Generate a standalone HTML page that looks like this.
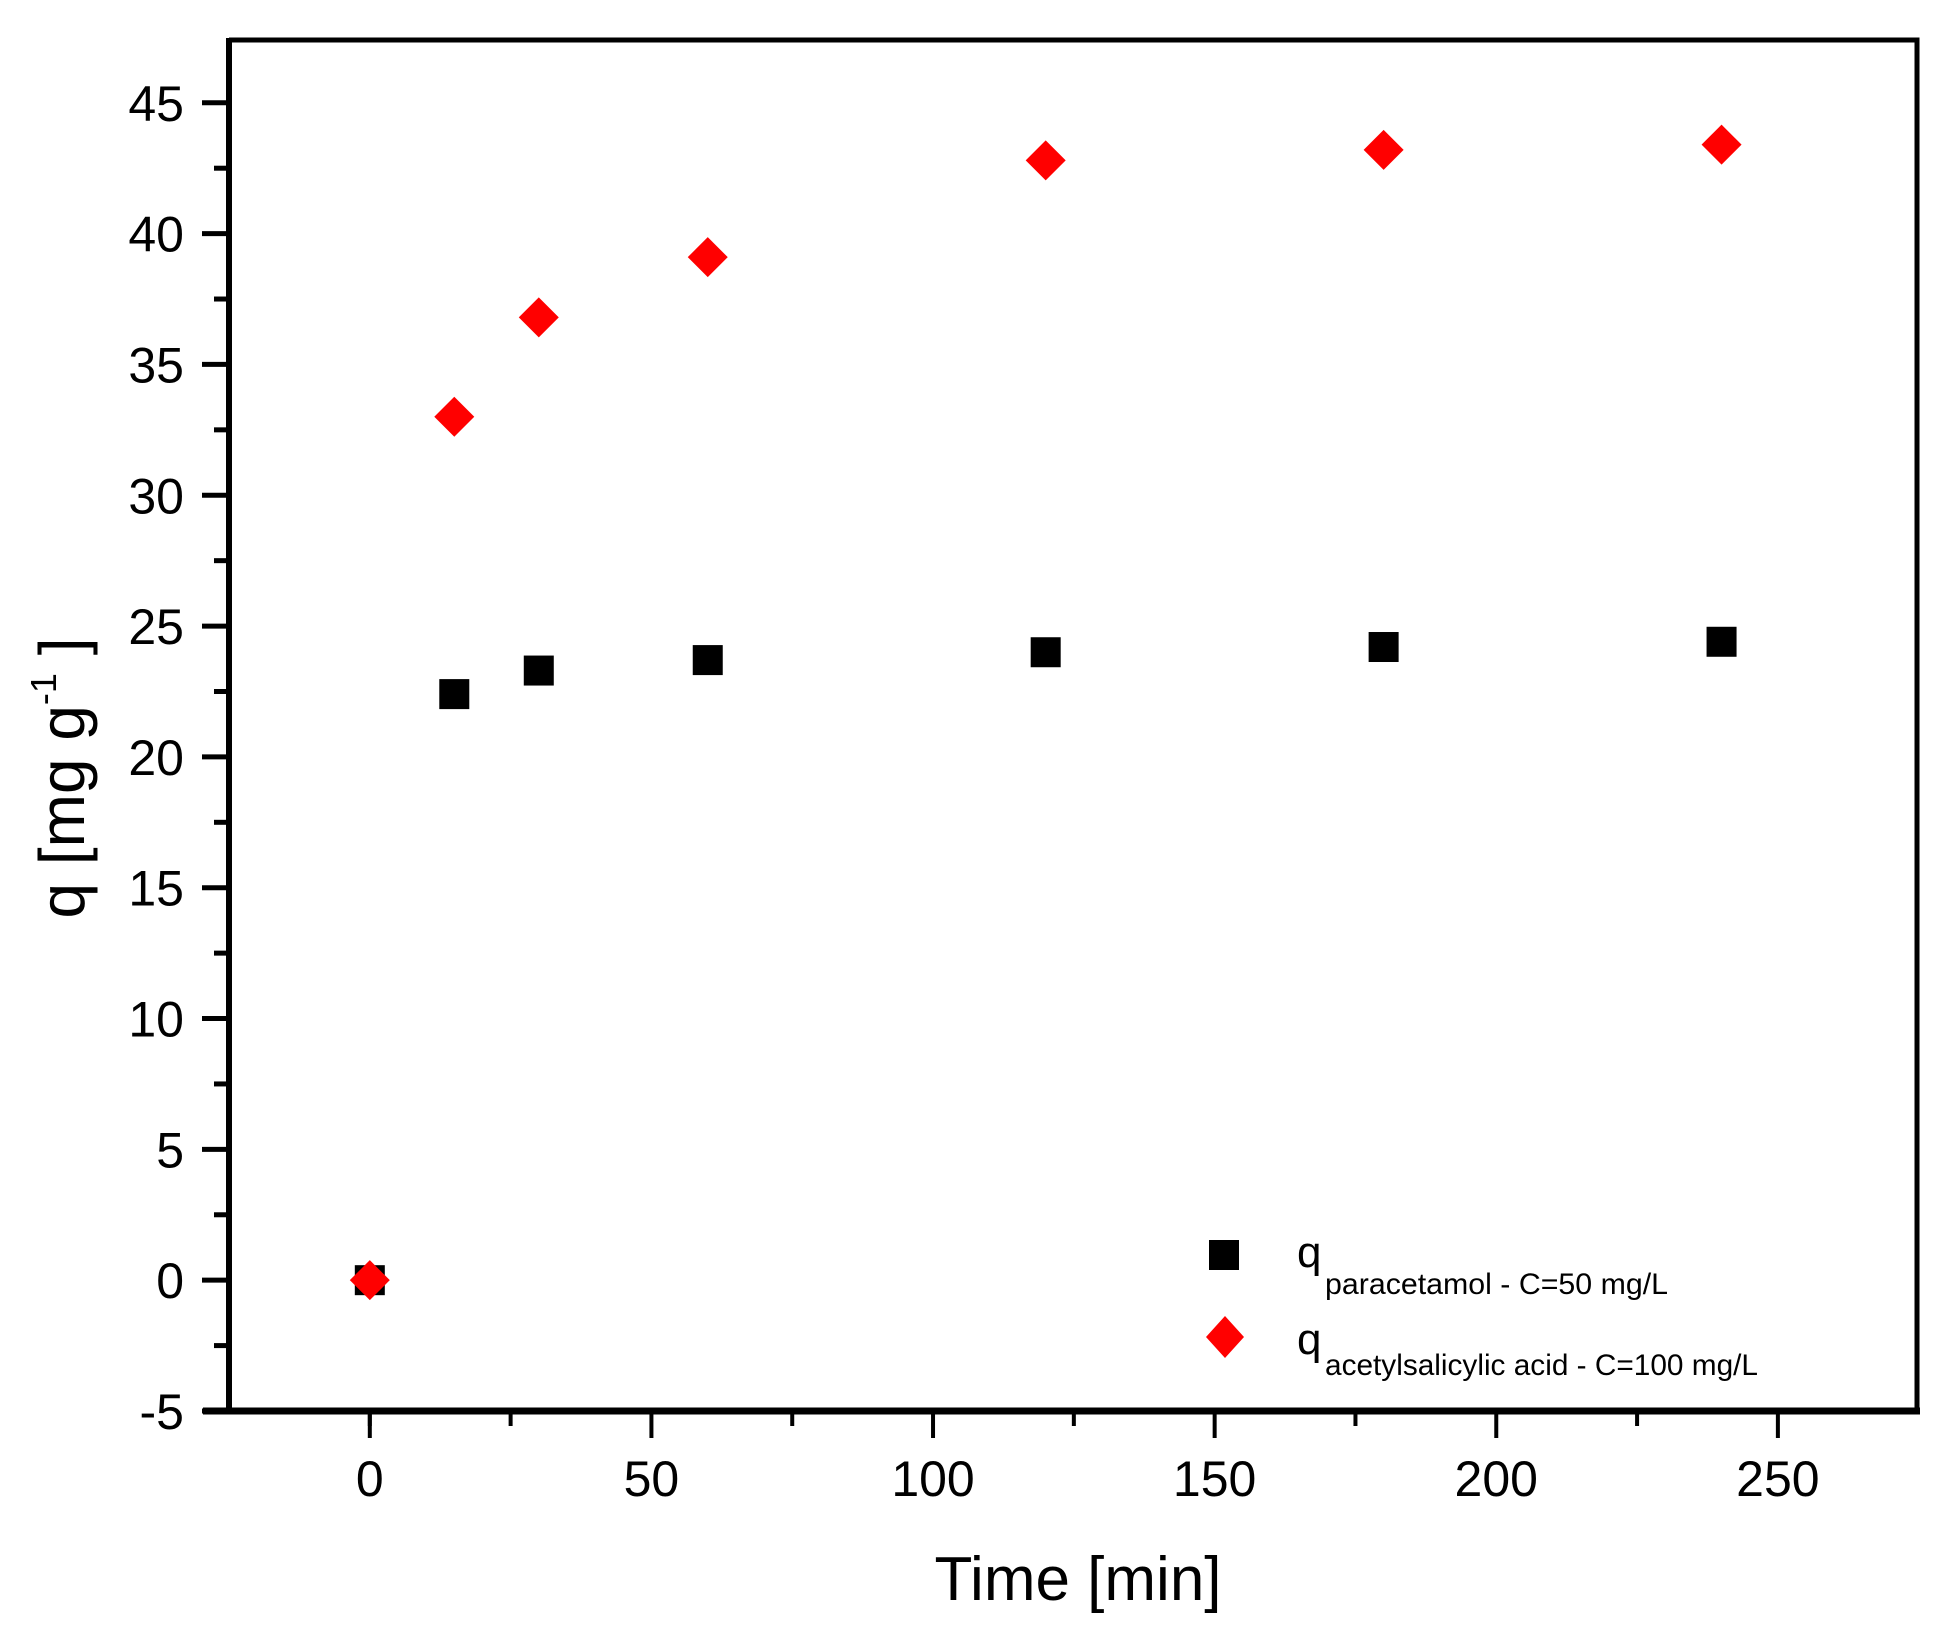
<!DOCTYPE html>
<html><head><meta charset="utf-8"><style>
html,body{margin:0;padding:0;background:#fff}
svg{display:block;font-family:"Liberation Sans",Arial,sans-serif}
</style></head><body>
<svg id="chart" width="1960" height="1641" viewBox="0 0 1960 1641">
<g id="plot"></g>
<g id="legend" transform="translate(0,-3)">
 <rect x="1209" y="1243" width="30" height="30" fill="#000"/>
 <text x="1297" y="1270" font-size="44">q</text>
 <text x="1325" y="1297" font-size="30" textLength="343" lengthAdjust="spacingAndGlyphs">paracetamol  - C=50 mg/L</text>
 <polygon points="1225,1319 1244,1340 1225,1361 1206,1340" fill="#ff0000"/>
 <text x="1297" y="1357" font-size="44">q</text>
 <text x="1325" y="1378" font-size="30" textLength="433" lengthAdjust="spacingAndGlyphs">acetylsalicylic acid  - C=100 mg/L</text>
</g>
<text x="1078" y="1600" font-size="62" text-anchor="middle">Time [min]</text>
<text transform="translate(84,778) rotate(-90)" font-size="64" text-anchor="middle">q [mg g<tspan font-size="36" dy="-28">-1</tspan><tspan dy="28"> ]</tspan></text>
</svg>
<script>
const timeMin = [0, 15, 30, 60, 120, 180, 240];
const qParacetamol = [0, 22.4, 23.3, 23.7, 24.0, 24.2, 24.4];
const qAcetylsalicylic = [0, 33.0, 36.8, 39.1, 42.8, 43.2, 43.4];
const xTicks = [0, 50, 100, 150, 200, 250];
const yTicks = [-5, 0, 5, 10, 15, 20, 25, 30, 35, 40, 45];

const NS = "http://www.w3.org/2000/svg";
const L = 229, R = 1917, T = 40, B = 1411;
const xMin = -25.0, xMax = 274.7, yMin = -5, yMax = 47.4;
const sx = v => L + (v - xMin) / (xMax - xMin) * (R - L);
const sy = v => B - (v - yMin) / (yMax - yMin) * (B - T);
const plot = document.getElementById('plot');
function mk(tag, attrs) { const e = document.createElementNS(NS, tag); for (const k in attrs) e.setAttribute(k, attrs[k]); plot.appendChild(e); return e; }

let f = mk('path', {d: `M${L},${T} H${R} V${B}`, fill: 'none', stroke: '#000', 'stroke-width': 5});


let ya = mk('line', {x1: L, y1: T - 2, x2: L, y2: B + 3, stroke: '#000', 'stroke-width': 6});


let xa = mk('line', {x1: L - 26, y1: B, x2: R + 3, y2: B, stroke: '#000', 'stroke-width': 7});



yTicks.forEach((v, i) => {
  const y = sy(v);
  const t = mk('line', {x1: L - 27, y1: y, x2: L, y2: y, stroke: '#000', 'stroke-width': 5});
  
  
  const lb = mk('text', {x: 184, y: y + 18, 'font-size': 50, 'text-anchor': 'end'});
  lb.textContent = String(v);
  
  
  if (i < yTicks.length - 1) {
    const ym = sy(v + 2.5);
    const m = mk('line', {x1: L - 15, y1: ym, x2: L, y2: ym, stroke: '#000', 'stroke-width': 5});
    
    
  }
});
[-25].concat(xTicks).forEach(v => {
  const x = sx(v);
  if (v > -25) {
    const t = mk('line', {x1: x, y1: B, x2: x, y2: B + 27, stroke: '#000', 'stroke-width': 4});
    
    
    const lb = mk('text', {x: x, y: B + 85, 'font-size': 50, 'text-anchor': 'middle'});
    lb.textContent = String(v);
    
    
  }
  const xm = sx(v + 25);
  if (xm <= R + 1) {
    const m = mk('line', {x1: xm, y1: B, x2: xm, y2: B + 15, stroke: '#000', 'stroke-width': 4});
    
    
  }
});

timeMin.forEach((t, i) => {
  const x = sx(t), y = sy(qParacetamol[i]);
  const s = mk('rect', {x: x - 15, y: y - 15, width: 30, height: 30, fill: '#000'});
  
  
});
timeMin.forEach((t, i) => {
  const x = sx(t), y = sy(qAcetylsalicylic[i]);
  const d = mk('polygon', {points: `${x},${y - 20} ${x + 20},${y} ${x},${y + 20} ${x - 20},${y}`, fill: '#ff0000'});
  
  
});
</script>
</body></html>
